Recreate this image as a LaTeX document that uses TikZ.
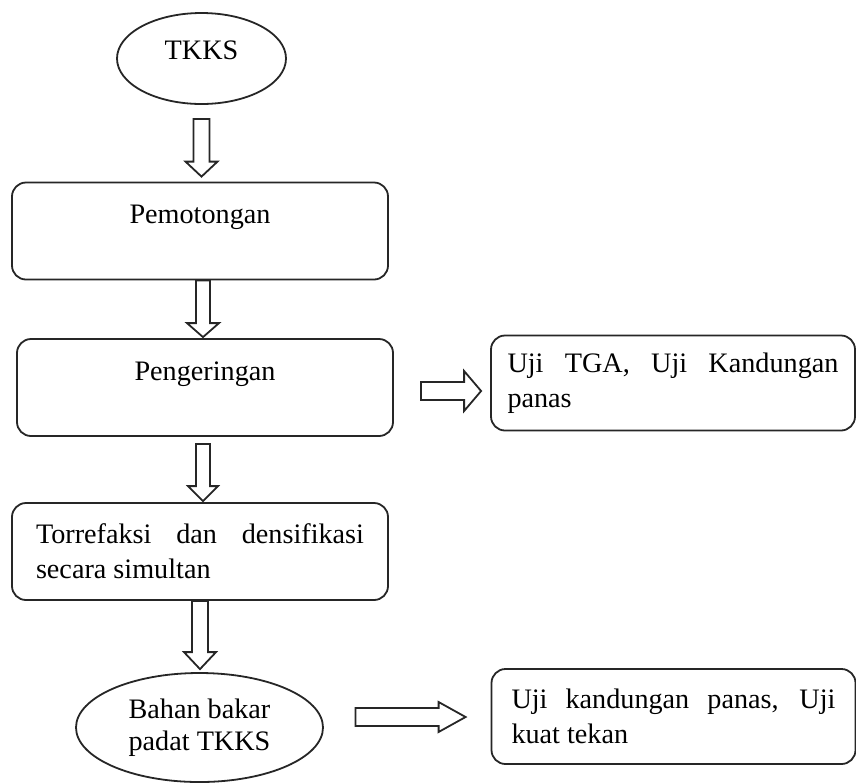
\documentclass[tikz,border=0pt]{standalone}
\usepackage{fontspec}
\setmainfont{Liberation Serif}
\usetikzlibrary{shapes.geometric,calc}
\hbadness=10000
\hyphenpenalty=10000
\exhyphenpenalty=10000
\tikzset{
  line/.style={draw=black!85, line width=0.9pt},
  stepbox/.style={line, rounded corners=7pt, minimum width=188pt, minimum height=48.5pt, inner sep=0pt},
  testbox/.style={line, rounded corners=7pt, minimum width=182pt, minimum height=47.5pt, inner sep=0pt, align=justify},
  oval/.style={line, ellipse, inner sep=0pt},
  toptext/.style={text height=10pt, text depth=17.2pt},
  fatdown/.style n args={3}{line, to path={let \p1=(\tikztostart), \p2=(\tikztotarget) in
    (\x1-#1,\y1) -- (\x1-#1,\y2+#3) -- (\x1-#2,\y2+#3) -- (\x1,\y2) -- (\x1+#2,\y2+#3) -- (\x1+#1,\y2+#3) -- (\x1+#1,\y1) -- cycle}},
  fatright/.style n args={3}{line, to path={let \p1=(\tikztostart), \p2=(\tikztotarget) in
    (\x1,\y1+#1) -- (\x2-#3,\y1+#1) -- (\x2-#3,\y1+#2) -- (\x2,\y1) -- (\x2-#3,\y1-#2) -- (\x2-#3,\y1-#1) -- (\x1,\y1-#1) -- cycle}},
}
\begin{document}
\begin{tikzpicture}[x=0.5pt,y=-0.5pt, font=\fontsize{14.1}{17.5}\selectfont]
\useasboundingbox (0,0) rectangle (856,783);
% nodes
\node[oval, minimum width=84.5pt, minimum height=45.5pt, text height=10pt, text depth=9.2pt] (tkks) at (201.5,58.5) {TKKS};
\node[stepbox, toptext] (pem) at (200,231) {Pemotongan};
\node[stepbox, toptext] (pen) at (205,387.5) {Pengeringan};
\node[stepbox, text width=164pt, align=justify] (tor) at (200,551.5) {\hyphenpenalty=10000 Torrefaksi dan densifikasi secara simultan};
\node[oval, minimum width=123.5pt, minimum height=54.5pt, align=center, font=\fontsize{14.1}{16}\selectfont] (bahan) at (199.5,727.5) {Bahan bakar\\padat TKKS};
\node[testbox, text width=165.5pt] (tga) at (673,383) {Uji TGA, Uji Kandungan panas};
\node[testbox, text width=162pt] (kuat) at (673.5,716.5) {Uji kandungan panas, Uji kuat tekan};
% block arrows
\draw[fatdown={4pt}{8pt}{7.5pt}] ([yshift=-7pt]tkks.south) to ([yshift=2.5pt]pem.north);
\draw[fatdown={3.5pt}{8pt}{7pt}] ([xshift=1.5pt]pem.south) to ([yshift=0.5pt]pen.north);
\draw[fatdown={3.5pt}{7.5pt}{7.5pt}] ([xshift=-1pt,yshift=-3.5pt]pen.south) to ([yshift=0.5pt]tor.north);
\draw[fatdown={4pt}{8pt}{8.5pt}] (tor.south) to ([yshift=1.5pt]bahan.north);
\draw[fatright={4.5pt}{10pt}{8.5pt}] ([xshift=13.5pt,yshift=-1.75pt]pen.east) to ([xshift=-4.5pt]tga.west);
\draw[fatright={4.5pt}{7.5pt}{13.5pt}] ([xshift=15.75pt,yshift=5.25pt]bahan.east) to ([xshift=-12.5pt]kuat.west);
\end{tikzpicture}
\end{document}
